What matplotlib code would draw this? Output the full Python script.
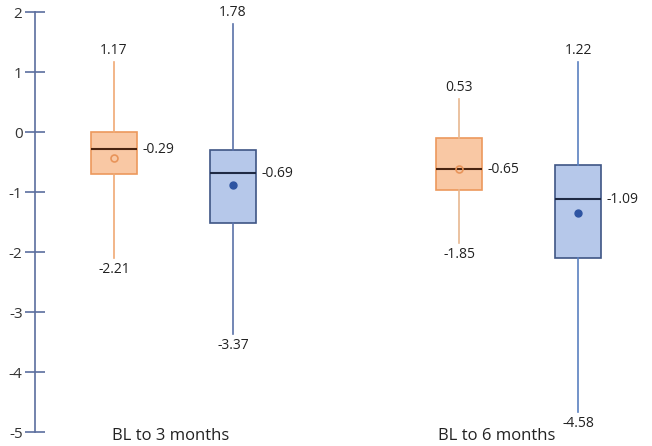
import matplotlib
matplotlib.use("Agg")
import matplotlib.pyplot as plt

plt.rcParams['font.family'] = ['Open Sans', 'DejaVu Sans']
plt.rcParams['axes.unicode_minus'] = False

categories = ["BL to 3 months", "BL to 6 months"]
series = ["A", "B"]
# per box: whisker low, q1, median, q3, whisker high, mean
whislo = [-2.10, -3.37, -1.85, -4.67]
q1 = [-0.70, -1.52, -0.97, -2.10]
med = [-0.29, -0.69, -0.62, -1.12]
q3 = [0.00, -0.30, -0.10, -0.55]
whishi = [1.17, 1.80, 0.55, 1.17]
means = [-0.43, -0.88, -0.62, -1.35]
med_labels = ["-0.29", "-0.69", "-0.65", "-1.09"]
hi_labels = ["1.17", "1.78", "0.53", "1.22"]
lo_labels = ["-2.21", "-3.37", "-1.85", "-4.58"]

positions = [1.0, 2.0, 3.9, 4.9]
fills = ["#F9C8A4", "#B6C8EA", "#F9C8A4", "#B6C8EA"]
edges = ["#EC985C", "#3E5585", "#EC985C", "#3E5585"]
whisk = ["#F0A974", "#5A72A8", "#E8B890", "#5A80C0"]
medc = ["#4A2410", "#1F2A44", "#4A2410", "#1F2A44"]

fig = plt.figure(figsize=(6.52, 4.46), dpi=100)
ax = fig.add_axes([35/652, 14/446, (652-35)/652, 420/446])
ax.set_ylim(-5, 2)
ax.set_xlim(1 - 79/119, 4.9 + 74/119)

for i in range(4):
    stats = [dict(whislo=whislo[i], q1=q1[i], med=med[i], q3=q3[i],
                  whishi=whishi[i], mean=means[i], fliers=[])]
    ax.bxp(stats, positions=[positions[i]], widths=0.38, patch_artist=True,
           showcaps=False, showfliers=False, showmeans=False,
           boxprops=dict(facecolor=fills[i], edgecolor=edges[i], linewidth=1.2),
           whiskerprops=dict(color=whisk[i], linewidth=1.2),
           medianprops=dict(color=medc[i], linewidth=1.5))
    if i % 2 == 0:
        ax.plot(positions[i], means[i], marker='o', ms=5, mfc='none',
                mec="#E8945A", mew=1.2, zorder=5)
    else:
        ax.plot(positions[i], means[i], marker='o', ms=5, mfc="#2E54A2",
                mec="#2E54A2", zorder=5)
    ax.text(positions[i], whishi[i] + 0.06, hi_labels[i], ha='center', va='bottom',
            fontsize=10, color='#222222')
    ax.text(positions[i], whislo[i] - 0.06, lo_labels[i], ha='center', va='top',
            fontsize=10, color='#222222')
    ax.text(positions[i] + 0.24, med[i], med_labels[i], ha='left', va='center',
            fontsize=10, color='#222222')

for x, lab in zip([1.48, 4.22], categories):
    ax.text(x, -5.07, lab, ha='center', va='center', fontsize=12, color='#222222',
            clip_on=False)

for s in ['top', 'right', 'bottom']:
    ax.spines[s].set_visible(False)
ax.spines['left'].set_color('#5B6E9E')
ax.spines['left'].set_linewidth(1.2)
ax.set_xticks([])
ax.set_yticks(range(-5, 3))
ax.tick_params(axis='y', direction='inout', length=14, width=1.2, color='#5B6E9E',
               labelsize=11, labelcolor='#333333', pad=2)
fig.savefig("out.png", dpi=100)
